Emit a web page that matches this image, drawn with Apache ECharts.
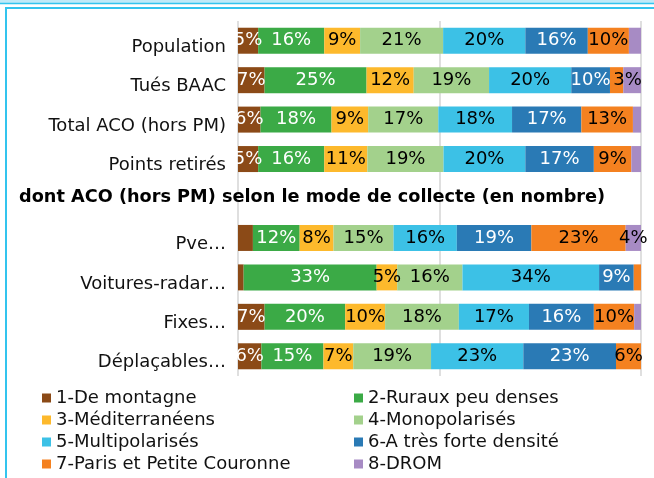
<!DOCTYPE html>
<html>
<head>
<meta charset="utf-8">
<script src="https://cdn.jsdelivr.net/npm/echarts@6/dist/echarts.min.js"></script>
<style>
  html, body { margin: 0; padding: 0; background: #fff; }
  #chart { width: 654px; height: 478px; }
</style>
</head>
<body>
<div id="chart"></div>
<script>
// categories (row 5 is the gap holding the sub-title)
const categories = ['Population', 'Tués BAAC', 'Total ACO (hors PM)', 'Points retirés', '',
  'Pve…', 'Voitures-radar…', 'Fixes…', 'Déplaçables…']

// shares in % per type of territory
const montagne = [5.0, 6.6, 5.6, 5.0, '-', 3.7, 1.4, 6.6, 5.8]
const ruraux = [16.4, 25.3, 17.6, 16.4, '-', 11.6, 33.0, 20.0, 15.4]
const mediterraneens = [8.9, 11.7, 9.1, 10.7, '-', 8.4, 5.1, 9.9, 7.4]
const monopolarises = [20.6, 18.7, 17.4, 18.9, '-', 14.9, 16.2, 18.3, 19.3]
const multipolarises = [20.4, 20.4, 18.3, 20.3, '-', 15.7, 33.9, 17.4, 22.9]
const forteDensite = [15.5, 9.6, 17.2, 17.0, '-', 18.5, 8.6, 16.1, 23.0]
const paris = [10.2, 3.3, 12.8, 9.3, '-', 23.4, 1.8, 10.0, 6.2]
const drom = [3.0, 4.5, 2.0, 2.4, '-', 3.8, 0, 1.7, 0]

const seriesNames = ['1-De montagne', '2-Ruraux peu denses', '3-Méditerranéens', '4-Monopolarisés',
  '5-Multipolarisés', '6-A très forte densité', '7-Paris et Petite Couronne', '8-DROM']
const seriesValues = [montagne, ruraux, mediterraneens, monopolarises, multipolarises, forteDensite, paris, drom]

// rows (by category index) where the segment has no label in the source
const hiddenLabels = [[5, 6], [], [], [], [], [], [6], [0, 1, 2, 3, 7]]

const colors = ['#8B4A17', '#3BAA46', '#FDB92C', '#A3D18C', '#3CC1E6', '#2A7AB5', '#F48120', '#A78BC4']
const labelColors = ['#fff', '#fff', '#000', '#000', '#000', '#fff', '#000', '#000']
const FONT = 'DejaVu Sans'

const chart = echarts.init(document.getElementById('chart'))

const series = seriesValues.map((vals, s) => ({
  name: seriesNames[s],
  type: 'bar',
  stack: 'total',
  barWidth: 26,
  itemStyle: { color: colors[s] },
  label: {
    show: true,
    position: 'inside',
    color: labelColors[s],
    fontFamily: FONT,
    fontSize: 18,
    formatter: p => Math.round(p.value) + '%'
  },
  data: vals.map((v, i) => {
    if (v === '-') return '-'
    if (v === 0 || hiddenLabels[s].includes(i)) return { value: v, label: { show: false } }
    // Tués BAAC, Paris : label sits a bit to the right in the source
    if (s === 6 && i === 1) return { value: v, label: { offset: [11, 0] } }
    return v
  })
}))

const legendBase = {
  orient: 'vertical',
  icon: 'rect',
  itemWidth: 9,
  itemHeight: 9,
  itemGap: 2,
  padding: 0,
  selectedMode: false,
  top: 388,
  textStyle: { fontFamily: FONT, fontSize: 18, color: '#111', lineHeight: 20 }
}

const option = {
  animation: false,
  title: {
    text: 'dont ACO (hors PM) selon le mode de collecte (en nombre)',
    left: 19,
    top: 186,
    padding: 0,
    textStyle: { fontFamily: FONT, fontSize: 17.7, fontWeight: 'bold', color: '#000', lineHeight: 22 }
  },
  legend: [
    Object.assign({}, legendBase, { left: 42, data: seriesNames.filter((n, i) => i % 2 === 0) }),
    Object.assign({}, legendBase, { left: 354, data: seriesNames.filter((n, i) => i % 2 === 1) })
  ],
  grid: { left: 238, right: 13, top: 21, height: 355, containLabel: false },
  xAxis: {
    type: 'value',
    min: 0,
    max: 100,
    interval: 50,
    axisLabel: { show: false },
    axisLine: { show: false },
    axisTick: { show: false },
    splitLine: { show: true, lineStyle: { color: '#d4d4d4', width: 1.5 } }
  },
  yAxis: {
    type: 'category',
    inverse: true,
    data: categories,
    axisTick: { show: false },
    axisLine: { show: false },
    axisLabel: {
      margin: 12,
      color: '#111',
      fontFamily: FONT,
      fontSize: 18,
      verticalAlign: 'top',
      lineHeight: 13
    }
  },
  graphic: [
    { type: 'rect', shape: { x: 0, y: 0, width: 654, height: 3 }, style: { fill: '#bfeaf8' }, silent: true },
    { type: 'line', shape: { x1: 0, y1: 3.5, x2: 654, y2: 3.5 }, style: { stroke: '#33c4ee', lineWidth: 1.5 }, silent: true },
    { type: 'line', shape: { x1: 5, y1: 8, x2: 654, y2: 8 }, style: { stroke: '#33c4ee', lineWidth: 2 }, silent: true },
    { type: 'line', shape: { x1: 6, y1: 7, x2: 6, y2: 478 }, style: { stroke: '#33c4ee', lineWidth: 2 }, silent: true }
  ],
  series: series
}

chart.setOption(option)
</script>
</body>
</html>
